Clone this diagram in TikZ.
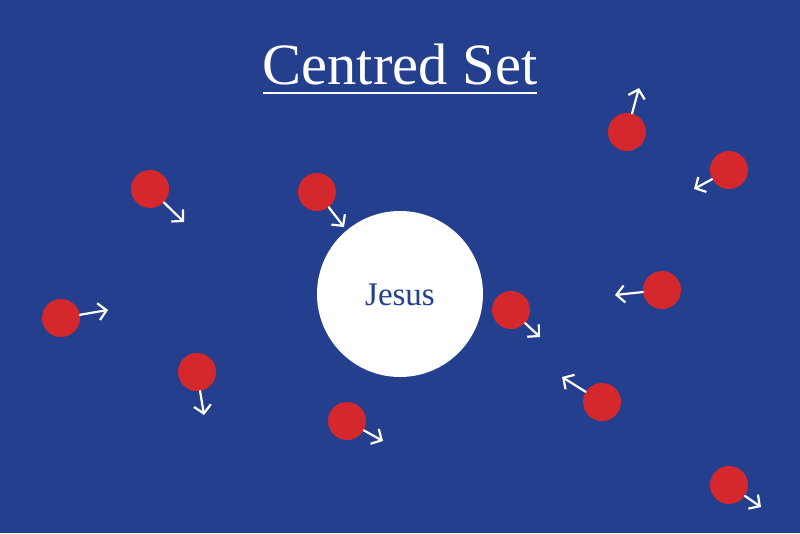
\documentclass[tikz,border=0pt]{standalone}
\usepackage{fontspec}
\setmainfont{Liberation Serif}
\usetikzlibrary{arrows.meta}
\definecolor{setblue}{RGB}{35,63,142}
\definecolor{dotred}{RGB}{212,40,44}

\begin{document}
\begin{tikzpicture}[x=1pt,y=-1pt,line join=round,line cap=round,
	dot/.style={circle,fill=dotred,minimum size=38pt,inner sep=0pt},
	move/.style={draw=white,line width=2.2pt,-{Straight Barb[length=8pt,width=17pt]}}]
	\fill[setblue] (0,0) rectangle (800,533);
	\useasboundingbox (0,0) rectangle (800,533);
	% title and centre
	\node[text=white,inner sep=0pt,anchor=base,font=\fontsize{58.5}{62}\selectfont] (title) at (400,84) {Centred Set};
	\draw[white,line width=2pt,line cap=butt] ([yshift=-9pt]title.base west) -- ([yshift=-9pt]title.base east);
	\node[circle,fill=white,minimum size=166pt,inner sep=0pt] (jesus) at (400,294) {};
	\node[text=setblue,anchor=base,font=\fontsize{33}{36}\selectfont] (name) at (400,305) {Jesus};
	% the dots
	\node[dot] (d1) at (150,189) {};
	\node[dot] (d2) at (317,192) {};
	\node[dot] (d3) at (627,132) {};
	\node[dot] (d4) at (729,170) {};
	\node[dot] (d5) at (662,290) {};
	\node[dot] (d6) at (511,310) {};
	\node[dot] (d7) at (61,318) {};
	\node[dot] (d8) at (197,372) {};
	\node[dot] (d9) at (347,421) {};
	\node[dot] (d10) at (602,402) {};
	\node[dot] (d11) at (729,485) {};
	% where each one is heading
	\coordinate (t1) at (184,222);
	\coordinate (t2) at (344,227);
	\coordinate (t3) at (639,88);
	\coordinate (t4) at (694,189);
	\coordinate (t5) at (615,295);
	\coordinate (t6) at (540,337);
	\coordinate (t7) at (108,310);
	\coordinate (t8) at (204,415);
	\coordinate (t9) at (383,441);
	\coordinate (t10) at (562,377);
	\coordinate (t11) at (761,507);
	\draw[move] (d1) -- (t1);
	\draw[move] (d2) -- (t2);
	\draw[move] (d3) -- (t3);
	\draw[move] (d4) -- (t4);
	\draw[move] (d5) -- (t5);
	\draw[move] (d6) -- (t6);
	\draw[move] (d7) -- (t7);
	\draw[move] (d8) -- (t8);
	\draw[move] (d9) -- (t9);
	\draw[move] (d10) -- (t10);
	\draw[move] (d11) -- (t11);
\end{tikzpicture}
\end{document}
